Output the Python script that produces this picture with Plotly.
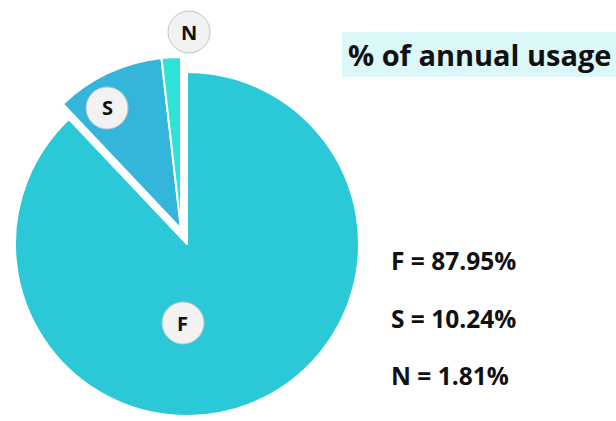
import plotly.graph_objects as go

# ---- data ----
labels = ["F", "S", "N"]
values = [87.95, 10.24, 1.81]
legend_lines = ["F = 87.95%", "S = 10.24%", "N = 1.81%"]
title_text = "% of annual usage"

# ---- style / layout constants ----
W, H = 616, 421
colors = ["#2bc9d8", "#33b5dc", "#2de3d8"]
CLEAR = "rgba(0,0,0,0)"
FONT = "Open Sans"

def px(x):
    return x / W

def py(y):
    return 1 - y / H

# main pie box (pixels) and shifted (exploded) group offset
cx, cy, r = 187, 244, 172
dx, dy = -6, -15

fig = go.Figure()

# base pie: F slice only
fig.add_trace(go.Pie(
    labels=labels, values=values, sort=False, direction="clockwise", rotation=0,
    marker=dict(colors=[colors[0], CLEAR, CLEAR],
                line=dict(color=["white", CLEAR, CLEAR], width=[2, 0, 0])),
    textinfo="none", hoverinfo="none", showlegend=False,
    domain=dict(x=[px(cx - r), px(cx + r)], y=[py(cy + r), py(cy - r)]),
))
# exploded group: S and N slices
fig.add_trace(go.Pie(
    labels=labels, values=values, sort=False, direction="clockwise", rotation=0,
    marker=dict(colors=[CLEAR, colors[1], colors[2]],
                line=dict(color=[CLEAR, "white", "white"], width=[0, 2, 2])),
    textinfo="none", hoverinfo="none", showlegend=False,
    domain=dict(x=[px(cx + dx - r), px(cx + dx + r)], y=[py(cy + dy + r), py(cy + dy - r)]),
))

shapes = []
annotations = []

# slice label bubbles
bubble_pos = {"F": (183, 323), "S": (107, 108), "N": (189, 32)}
for lab in labels:
    bx, by = bubble_pos[lab]
    shapes.append(dict(type="circle", xref="paper", yref="paper",
                       xsizemode="pixel", ysizemode="pixel",
                       xanchor=px(bx), yanchor=py(by),
                       x0=-21, x1=21, y0=-21, y1=21,
                       fillcolor="#f2f2f2", line=dict(color="#b9c9c6", width=1)))
    annotations.append(dict(text=f"<b>{lab}</b>", x=px(bx), y=py(by), xref="paper", yref="paper",
                            showarrow=False, xanchor="center", yanchor="middle",
                            font=dict(family=FONT, size=20, color="#111111")))

# title box
shapes.append(dict(type="rect", xref="paper", yref="paper",
                   x0=px(342), x1=1, y0=py(77), y1=py(32),
                   fillcolor="#dcf7f7", line=dict(width=0), layer="below"))
annotations.append(dict(text=f"<b>{title_text}</b>", x=px(346), y=py(55), xref="paper", yref="paper",
                        showarrow=False, xanchor="left", yanchor="middle",
                        font=dict(family=FONT, size=29, color="#111111")))

# value lines
line_y = [260, 318, 375]
for t, yy in zip(legend_lines, line_y):
    annotations.append(dict(text=f"<b>{t}</b>", x=px(389), y=py(yy), xref="paper", yref="paper",
                            showarrow=False, xanchor="left", yanchor="middle",
                            font=dict(family=FONT, size=24.5, color="#111111")))

fig.update_layout(
    width=W, height=H, margin=dict(l=0, r=0, t=0, b=0),
    paper_bgcolor="white", plot_bgcolor="white",
    shapes=shapes, annotations=annotations, showlegend=False,
)

fig.write_html("out.html")
